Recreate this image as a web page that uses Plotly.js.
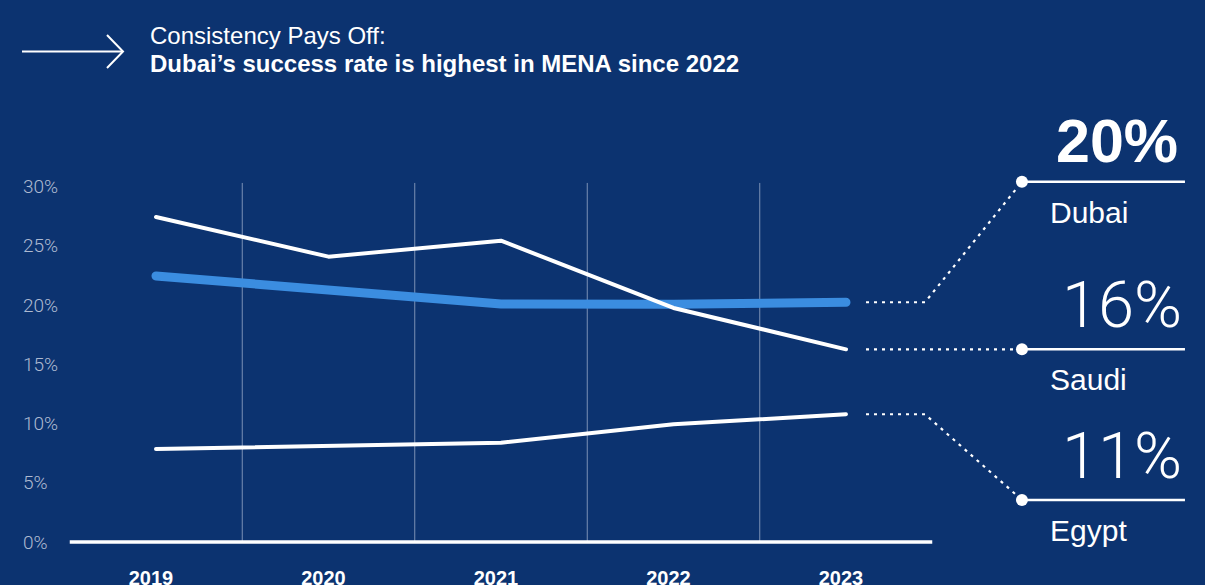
<!DOCTYPE html>
<html><head><meta charset="utf-8">
<script src="https://cdn.plot.ly/plotly-3.0.1.min.js"></script>
<style>
html,body{margin:0;padding:0;background:#0C3370;overflow:hidden;}
#chart{width:1205px;height:585px;}
.scatterlayer .js-line{stroke-linecap:round;stroke-linejoin:round;}
</style></head><body><div id="chart"></div>
<script>
// ---- data ----
const years = ['2019', '2020', '2021', '2022', '2023'];
const dubai = [22.45, 21.32, 20.08, 20.06, 20.23];
const saudi = [27.43, 24.08, 25.43, 19.75, 16.26];
const egypt = [7.85, 8.10, 8.38, 9.93, 10.78];
const seriesNames = ['Dubai', 'Saudi', 'Egypt'];
const yTickValues = [0, 5, 10, 15, 20, 25, 30];
const yTickLabels = ['0%', '5%', '10%', '15%', '20%', '25%', '30%'];
const titleLine1 = 'Consistency Pays Off:';
const titleLine2 = 'Dubai’s success rate is highest in MENA since 2022';

// ---- layout geometry ----
const W = 1205, H = 585;
const M = {l: 20, r: 0, t: 100, b: 25};
const X_PX0 = 156, X_STEP = 172.5;      // pixel of first category, spacing
const Y_PX0 = 542, Y_PX_PER = 11.85;     // pixel of 0%, pixels per 1%
const xRange = [(M.l - X_PX0) / X_STEP, (W - M.r - X_PX0) / X_STEP];
const yRange = [(Y_PX0 - (H - M.b)) / Y_PX_PER, (Y_PX0 - M.t) / Y_PX_PER];
const px = v => (v - M.l) / (W - M.l - M.r);
const py = v => (H - M.b - v) / (H - M.t - M.b);

const BG = '#0C3370', BLUE = '#3B8DE0', WHITE = '#FFFFFF';
const GRID = 'rgba(160,176,204,0.75)';
const FONT = 'Liberation Sans, Arial, sans-serif';
const LIGHT = 'Roboto, Liberation Sans, sans-serif';

const xIdx = years.map((_, i) => i);
const last = arr => arr[arr.length - 1];

// label anchors (layout constants, in axis units)
const LABEL_X0 = 5.02, LABEL_X1 = 5.965;
const ELBOW_X0 = 4.116, ELBOW_X1 = 4.458;
const seriesData = [dubai, saudi, egypt];
const anchorY = [30.4, last(saudi), 3.55];

const traces = [
  {x: xIdx, y: dubai, name: seriesNames[0], mode: 'lines',
   line: {color: BLUE, width: 9}, hoverinfo: 'skip'},
  {x: xIdx, y: saudi, name: seriesNames[1], mode: 'lines',
   line: {color: WHITE, width: 4}, hoverinfo: 'skip'},
  {x: xIdx, y: egypt, name: seriesNames[2], mode: 'lines',
   line: {color: WHITE, width: 4}, hoverinfo: 'skip'},
  {x: anchorY.map(() => LABEL_X0), y: anchorY, mode: 'markers',
   marker: {color: WHITE, size: 12}, hoverinfo: 'skip', showlegend: false}
];

const shapes = [];
// vertical separators between years
for (let i = 0; i < years.length - 1; i++) {
  shapes.push({type: 'line', xref: 'x', yref: 'y', x0: i + 0.5, x1: i + 0.5,
    y0: 0, y1: 30.3, line: {color: GRID, width: 1}, layer: 'below'});
}
// baseline
shapes.push({type: 'line', xref: 'x', yref: 'y', x0: -0.5, x1: years.length - 0.5,
  y0: 0, y1: 0, line: {color: WHITE, width: 3.5}, layer: 'below'});
// connectors + underlines
seriesData.forEach((arr, i) => {
  const e = last(arr);
  shapes.push({type: 'path', xref: 'x', yref: 'y',
    path: `M ${ELBOW_X0},${e} L ${ELBOW_X1},${e} L ${LABEL_X0},${anchorY[i]}`,
    line: {color: WHITE, width: 2.2, dash: '3px,5px'}});
  shapes.push({type: 'line', xref: 'x', yref: 'y', x0: LABEL_X0, x1: LABEL_X1,
    y0: anchorY[i], y1: anchorY[i], line: {color: WHITE, width: 2.5}});
});
// arrow in header
shapes.push({type: 'path', xref: 'paper', yref: 'paper',
  path: `M ${px(22)},${py(51.5)} L ${px(122)},${py(51.5)}`,
  line: {color: WHITE, width: 2}});
shapes.push({type: 'path', xref: 'paper', yref: 'paper',
  path: `M ${px(107)},${py(35)} L ${px(123)},${py(51.5)} L ${px(107)},${py(68)}`,
  line: {color: WHITE, width: 2}});

const annotations = [
  {xref: 'paper', yref: 'paper', x: px(148), y: py(48.5), xanchor: 'left', yanchor: 'top',
   text: '<b>' + titleLine2 + '</b>', showarrow: false,
   font: {family: FONT, size: 24, color: WHITE}}
];
seriesData.forEach((arr, i) => {
  const bold = i === 0;
  annotations.push({xref: 'x', yref: 'y', x: bold ? 5.936 : 5.957, y: anchorY[i], xanchor: 'right',
    yanchor: 'bottom', yshift: bold ? 5 : 4, showarrow: false,
    text: bold ? '<b>' + Math.round(last(arr)) + '%</b>' : Math.round(last(arr)) + '%',
    font: {family: bold ? FONT : LIGHT, weight: bold ? 700 : 300,
      size: bold ? 61 : 65, color: WHITE}});
  annotations.push({xref: 'x', yref: 'y', x: 5.171, y: anchorY[i], xanchor: 'left',
    yanchor: 'top', yshift: -12, showarrow: false, text: seriesNames[i],
    font: {family: FONT, size: 30, color: WHITE}});
});

const layout = {
  width: W, height: H,
  paper_bgcolor: BG, plot_bgcolor: BG,
  margin: M,
  showlegend: false,
  hovermode: false,
  title: {text: titleLine1, x: 150 / W, xanchor: 'left', xref: 'container',
    y: 1 - 27.5 / H, yanchor: 'top', yref: 'container', pad: {t: 0, b: 0, l: 0, r: 0},
    font: {family: FONT, size: 24, color: WHITE}},
  xaxis: {range: xRange, tickvals: xIdx, ticktext: years, showgrid: false,
    zeroline: false, showline: false, ticks: '', ticklabelstandoff: 4, ticklabelshift: -5,
    tickfont: {family: FONT, size: 20, color: WHITE, weight: 700}, fixedrange: true},
  yaxis: {range: yRange, tickvals: yTickValues, ticktext: yTickLabels, showgrid: false,
    zeroline: false, showline: false, ticks: '', ticklabelposition: 'inside',
    tickfont: {family: LIGHT, weight: 300, size: 19, color: '#AEBAD0'}, fixedrange: true},
  shapes: shapes,
  annotations: annotations
};

Plotly.newPlot('chart', traces, layout, {displayModeBar: false, staticPlot: true});
</script></body></html>
